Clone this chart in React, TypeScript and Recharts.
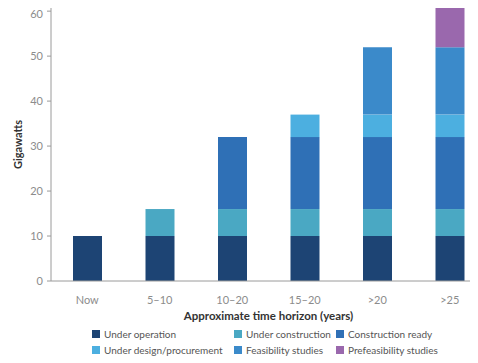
import React from 'react';
import { BarChart, Bar, XAxis, YAxis, Legend } from 'recharts';

const horizons = ['Now', '5–10', '10–20', '15–20', '>20', '>25'];
const underOperation = [10, 10, 10, 10, 10, 10];
const underConstruction = [0, 6, 6, 6, 6, 6];
const constructionReady = [0, 0, 16, 16, 16, 16];
const underDesign = [0, 0, 0, 5, 5, 5];
const feasibility = [0, 0, 0, 0, 15, 15];
const prefeasibility = [0, 0, 0, 0, 0, 8.7];
const yTicks = [0, 10, 20, 30, 40, 50, 60];
const boundaryTicks = [1, 2, 3, 4, 5];

const SERIES = [
  { key: 'op', name: 'Under operation', color: '#1d4474', values: underOperation },
  { key: 'constr', name: 'Under construction', color: '#4aa8c3', values: underConstruction },
  { key: 'ready', name: 'Construction ready', color: '#2f70b6', values: constructionReady },
  { key: 'design', name: 'Under design/procurement', color: '#4cafe0', values: underDesign },
  { key: 'feas', name: 'Feasibility studies', color: '#3b8aca', values: feasibility },
  { key: 'prefeas', name: 'Prefeasibility studies', color: '#9a68ad', values: prefeasibility },
];

const data = horizons.map((name, i) => {
  const row: Record<string, string | number> = { name };
  SERIES.forEach((s) => { row[s.key] = s.values[i]; });
  return row;
});

const FONT = 'Lato, "Open Sans", sans-serif';
const AXIS = '#9a9a9a';

// three-column legend, filled row by row
function LegendGrid() {
  return (
    <div
      style={{
        display: 'grid',
        gridTemplateColumns: '142px 102px auto',
        paddingTop: 5,
        fontFamily: FONT,
        fontSize: 10,
        lineHeight: '16px',
        color: '#555',
        whiteSpace: 'nowrap',
      }}
    >
      {SERIES.map((s) => (
        <div key={s.key} style={{ display: 'flex', alignItems: 'center' }}>
          <span
            style={{
              width: 8,
              height: 8,
              flexShrink: 0,
              background: s.color,
              marginRight: 4,
              display: 'inline-block',
            }}
          />
          {s.name}
        </div>
      ))}
    </div>
  );
}

export default function App() {
  return (
    <div style={{ width: 470, height: 355, overflow: 'hidden' }}>
      <BarChart
        width={480}
        height={353}
        data={data}
        margin={{ top: 0, right: 2, bottom: 0, left: 0 }}
      >
        <XAxis
          xAxisId="bounds"
          type="number"
          domain={[0, 6]}
          ticks={boundaryTicks}
          tick={false}
          axisLine={false}
          tickLine={{ stroke: AXIS }}
          tickSize={4}
          height={0}
        />
        <XAxis
          dataKey="name"
          axisLine={{ stroke: AXIS }}
          tickLine={false}
          tickMargin={9}
          height={40}
          tick={{ fontSize: 11, fill: '#8c8c8c', fontFamily: FONT }}
          label={{
            value: 'Approximate time horizon (years)',
            position: 'insideBottom',
            offset: 1,
            style: { fontSize: 11.5, fontWeight: 700, fill: '#333', fontFamily: FONT },
          }}
        />
        <YAxis
          width={43}
          domain={[0, 'dataMax']}
          ticks={yTicks}
          axisLine={{ stroke: AXIS }}
          tickLine={{ stroke: AXIS }}
          tickSize={4}
          tickMargin={4}
          tick={{ fontSize: 11, fill: '#8c8c8c', fontFamily: FONT }}
          label={{
            value: 'Gigawatts',
            angle: -90,
            position: 'insideLeft',
            offset: 10,
            style: { textAnchor: 'middle', fontSize: 11, fontWeight: 700, fill: '#333', fontFamily: FONT },
          }}
        />
        <Legend
          verticalAlign="bottom"
          height={40}
          content={() => <LegendGrid />}
          wrapperStyle={{ left: 84, width: 370 }}
        />
        {SERIES.map((s) => (
          <Bar
            key={s.key}
            dataKey={s.key}
            name={s.name}
            stackId="gw"
            fill={s.color}
            barSize={29}
            isAnimationActive={false}
          />
        ))}
      </BarChart>
    </div>
  );
}
